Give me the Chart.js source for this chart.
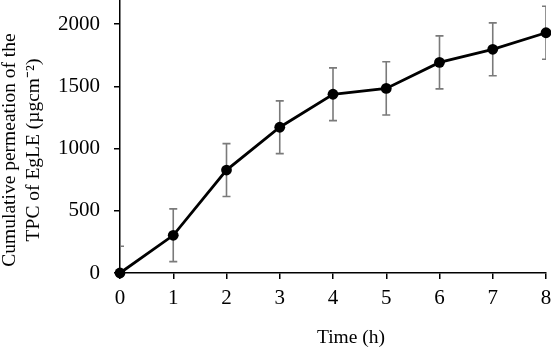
<!DOCTYPE html>
<html>
<head>
<meta charset="utf-8">
<script src="https://cdn.jsdelivr.net/npm/chart.js@4"></script>
<style>
    html, body { margin: 0; padding: 0; background: #fff; }
    #wrap { width: 551px; height: 352px; }
</style>
</head>
<body>
<div id="wrap"><canvas id="permChart" width="551" height="352"></canvas></div>
<script>
const times = [0, 1, 2, 3, 4, 5, 6, 7, 8];
const tpcValues = [0, 303, 827, 1171, 1436, 1483, 1692, 1797, 1930];
const tpcErrors = [215, 212, 212, 212, 212, 214, 213, 212, 213];
const yTickValues = [0, 500, 1000, 1500, 2000];
const yTitleLines = ['Cumulative permeation of the', 'TPC of EgLE (\u00b5gcm\u207b\u00b2)'];
const xTitle = 'Time (h)';

const serif = "'Liberation Serif', 'Times New Roman', serif";

// error bars, clipped to the plot area like the original
const errorBars = {
    id: 'errorBars',
    beforeDatasetsDraw(chart) {
        const ctx = chart.ctx;
        const xs = chart.scales.x, ys = chart.scales.y;
        const area = chart.chartArea;
        ctx.save();
        ctx.beginPath();
        ctx.rect(area.left, area.top, area.right - area.left, area.bottom - area.top);
        ctx.clip();
        ctx.strokeStyle = '#7a7a7a';
        ctx.lineWidth = 1.6;
        times.forEach(function (t, i) {
            const x = xs.getPixelForValue(t);
            const yHi = ys.getPixelForValue(tpcValues[i] + tpcErrors[i]);
            const yLo = ys.getPixelForValue(tpcValues[i] - tpcErrors[i]);
            ctx.beginPath();
            ctx.moveTo(x, yHi); ctx.lineTo(x, yLo);
            ctx.moveTo(x - 4, yHi); ctx.lineTo(x + 4, yHi);
            ctx.moveTo(x - 4, yLo); ctx.lineTo(x + 4, yLo);
            ctx.stroke();
        });
        ctx.restore();
    }
};

// axis titles
const axisTitles = {
    id: 'axisTitles',
    afterDraw(chart) {
        const ctx = chart.ctx;
        ctx.save();
        ctx.fillStyle = '#000';
        ctx.font = '19.5px ' + serif;
        ctx.textAlign = 'center';
        ctx.textBaseline = 'middle';
        ctx.translate(0, 150);
        ctx.rotate(-Math.PI / 2);
        ctx.fillText(yTitleLines[0], 0, 10);
        ctx.fillText(yTitleLines[1], 0, 34);
        ctx.restore();

        ctx.save();
        ctx.fillStyle = '#000';
        ctx.font = '19.5px ' + serif;
        ctx.textAlign = 'center';
        ctx.textBaseline = 'middle';
        ctx.fillText(xTitle, 351, 338);
        ctx.restore();
    }
};

const ctx = document.getElementById('permChart').getContext('2d');
new Chart(ctx, {
    type: 'line',
    data: {
        datasets: [{
            data: times.map(function (t, i) { return { x: t, y: tpcValues[i] }; }),
            borderColor: '#000',
            backgroundColor: '#000',
            borderWidth: 2.8,
            pointRadius: 5.4,
            pointHoverRadius: 5.4,
            pointBackgroundColor: '#000',
            pointBorderColor: '#000',
            pointBorderWidth: 0,
            tension: 0,
            clip: false
        }]
    },
    options: {
        responsive: false,
        animation: false,
        events: [],
        layout: { autoPadding: false, padding: { top: 0, right: 5, left: 0, bottom: 0 } },
        plugins: {
            legend: { display: false },
            tooltip: { enabled: false }
        },
        scales: {
            x: {
                type: 'linear',
                min: 0,
                max: 8,
                afterFit: function (scale) {
                    scale.height = 79;
                    scale.paddingLeft = 0;
                    scale.paddingRight = 0;
                },
                border: { color: '#000', width: 1.5 },
                grid: { drawOnChartArea: false, drawTicks: true, tickLength: 6, color: '#000', lineWidth: 1.5 },
                ticks: {
                    stepSize: 1,
                    padding: 7,
                    color: '#000',
                    maxRotation: 0,
                    font: { family: serif, size: 21 }
                }
            },
            y: {
                min: 0,
                max: 2193,
                afterFit: function (scale) {
                    scale.width = 120;
                    scale.paddingTop = 0;
                    scale.paddingBottom = 0;
                },
                afterBuildTicks: function (scale) {
                    scale.ticks = yTickValues.map(function (v) { return { value: v }; });
                },
                border: { color: '#000', width: 1.5 },
                grid: { drawOnChartArea: false, drawTicks: true, tickLength: 6, color: '#000', lineWidth: 1.5 },
                ticks: {
                    padding: 14,
                    color: '#000',
                    font: { family: serif, size: 21 },
                    callback: function (v) { return String(v); }
                }
            }
        }
    },
    plugins: [errorBars, axisTitles]
});
</script>
</body>
</html>
